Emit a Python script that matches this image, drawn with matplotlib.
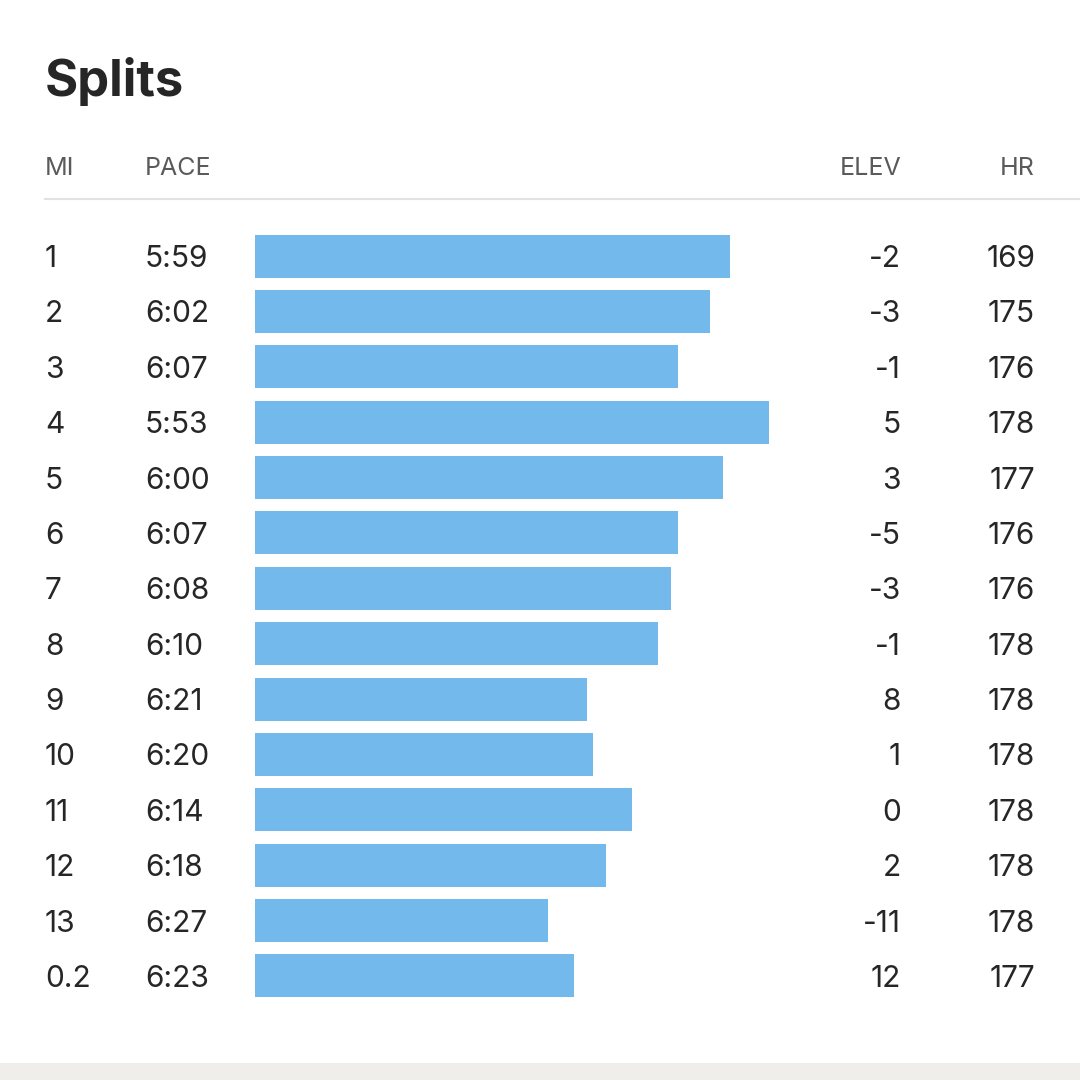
import numpy as np
import matplotlib
matplotlib.use('Agg')
from matplotlib import pyplot as plt
from matplotlib.patches import Rectangle

## splits table: mile, pace, elevation, heart rate

miles = ['1', '2', '3', '4', '5', '6', '7', '8', '9', '10', '11', '12', '13', '0.2']
paces = ['5:59', '6:02', '6:07', '5:53', '6:00', '6:07', '6:08', '6:10',
         '6:21', '6:20', '6:14', '6:18', '6:27', '6:23']
elev = [-2, -3, -1, 5, 3, -5, -3, -1, 8, 1, 0, 2, -11, 12]
hr = [169, 175, 176, 178, 177, 176, 176, 178, 178, 178, 178, 178, 178, 177]
headers = ['MI', 'PACE', 'ELEV', 'HR']

# bars grow as the pace gets faster, measured from a 7:12 baseline
base_pace = 7 * 60 + 12

def pace_to_sec(p):
	m, s = p.split(':')
	return int(m) * 60 + int(s)

bar_len = np.array([base_pace - pace_to_sec(p) for p in paces])

W = H = 1080
px_per_sec = 6.5
bar_left = 255
row0 = 256
row_step = 55.38

fig = plt.figure(figsize=(10.8, 10.8), dpi=100)
fig.patch.set_facecolor('white')
ax = fig.add_axes([0, 0, 1, 1])
ax.set_xlim(-bar_left / px_per_sec, (W - bar_left) / px_per_sec)
ax.set_ylim((H - row0) / row_step, -row0 / row_step)
ax.axis('off')

rows = np.arange(len(miles))
ax.barh(rows, bar_len, height=43 / row_step, color='#74b9ec', left=0)

# text columns use figure x with data rows for y
tr = ax.get_yaxis_transform()  # x in axes fraction, y in data
font = 'Inter'
txt = '#262626'
head = '#5a5a5a'

def fx(px):
	return px / W

fig.text(fx(45), 1 - 96 / H, 'Splits', fontsize=36.5, fontweight='bold',
	family=font, color='#262626', ha='left', va='baseline')

head_y = 1 - 175 / H
fig.text(fx(45), head_y, headers[0], fontsize=18, family=font, color=head, ha='left', va='baseline')
fig.text(fx(145), head_y, headers[1], fontsize=18, family=font, color=head, ha='left', va='baseline')
fig.text(fx(901), head_y, headers[2], fontsize=18, family=font, color=head, ha='right', va='baseline')
fig.text(fx(1035), head_y, headers[3], fontsize=18, family=font, color=head, ha='right', va='baseline')

fig.add_artist(plt.Line2D([fx(45), 1.0], [1 - 199 / H, 1 - 199 / H],
	color='#e2e2e2', linewidth=1.5))

off = 11 / row_step
for i in rows:
	y = i + off
	ax.text(fx(45), y, miles[i], transform=tr, fontsize=21.5, family=font, color=txt, ha='left', va='baseline')
	ax.text(fx(145), y, paces[i], transform=tr, fontsize=21.5, family=font, color=txt, ha='left', va='baseline')
	ax.text(fx(901), y, str(elev[i]), transform=tr, fontsize=21.5, family=font, color=txt, ha='right', va='baseline')
	ax.text(fx(1035), y, str(hr[i]), transform=tr, fontsize=21.5, family=font, color=txt, ha='right', va='baseline')

# grey strip at the bottom edge
fig.add_artist(Rectangle((0, 0), 1, 17 / H, transform=fig.transFigure,
	facecolor='#efeeea', edgecolor='none'))

fig.savefig('out.png', dpi=100)
